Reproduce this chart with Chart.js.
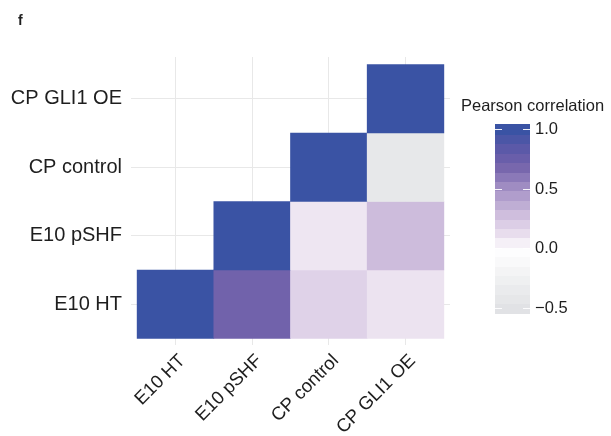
<!DOCTYPE html>
<html>
<head>
<meta charset="utf-8">
<script src="https://cdn.jsdelivr.net/npm/chart.js@4.4.0/dist/chart.umd.min.js"></script>
<style>
  html, body { margin: 0; padding: 0; background: #fff; }
  #wrap { position: relative; width: 611px; height: 436px; }
</style>
</head>
<body>
<div id="wrap"><canvas id="chart" width="611" height="436"></canvas></div>
<script>
// Samples, used for both axes (x left->right, y bottom->top)
const SAMPLES = ['E10 HT', 'E10 pSHF', 'CP control', 'CP GLI1 OE'];

// Pearson correlation per row (y sample) across the x samples; null = cell left blank
const ROW_E10_HT = [1.0, 0.72, 0.19, 0.10];
const ROW_E10_PSHF = [null, 1.0, 0.09, 0.30];
const ROW_CP_CONTROL = [null, null, 1.0, -0.40];
const ROW_CP_GLI1_OE = [null, null, null, 1.0];

// Colour bar
const LEGEND_TICKS = [1.0, 0.5, 0.0, -0.5];
const FILL_LIMITS = [-0.5, 1.0];

const FONT = "'Liberation Sans', Arial, Helvetica, sans-serif";
const TEXT = '#1e1e1e';

// fill scale: grey -> white -> lavender -> purple -> blue
const STOPS = [
  [-0.5, [225, 226, 229]],
  [0.0, [255, 255, 255]],
  [0.1, [236, 227, 240]],
  [0.2, [222, 208, 231]],
  [0.3, [205, 188, 220]],
  [0.5, [165, 146, 198]],
  [0.7, [116, 99, 171]],
  [0.85, [90, 88, 168]],
  [1.0, [58, 83, 164]]
];

function fillFor(v) {
  if (v <= STOPS[0][0]) return 'rgb(' + STOPS[0][1].join(',') + ')';
  for (let i = 1; i < STOPS.length; i++) {
    const [v1, c1] = STOPS[i];
    if (v <= v1) {
      const [v0, c0] = STOPS[i - 1];
      const t = (v - v0) / (v1 - v0);
      const c = c0.map((a, k) => Math.round(a + (c1[k] - a) * t));
      return 'rgb(' + c.join(',') + ')';
    }
  }
  return 'rgb(' + STOPS[STOPS.length - 1][1].join(',') + ')';
}

// one floating bar per tile
const rows = [ROW_E10_HT, ROW_E10_PSHF, ROW_CP_CONTROL, ROW_CP_GLI1_OE];
const cells = [];
rows.forEach((row, yi) => {
  row.forEach((v, xi) => {
    if (v !== null) cells.push({ x: xi + 0.5, y: [yi, yi + 1], v });
  });
});

const centerTicks = (scale) => {
  scale.ticks = SAMPLES.map((s, i) => ({ value: i + 0.5 }));
};

// colour bar legend drawn next to the plot
const colourBar = {
  id: 'colourBar',
  afterDraw(chart) {
    const ctx = chart.ctx;
    const [lo, hi] = FILL_LIMITS;
    const nbin = 20;
    const bx = 495, bw = 35, top = 124.5, bh = 188;
    const yFor = (v) => top + bh - (((v - lo) / (hi - lo)) * (nbin - 1) + 0.5) / nbin * bh;

    ctx.save();
    ctx.font = '16.5px ' + FONT;
    ctx.fillStyle = TEXT;
    ctx.textAlign = 'left';
    ctx.textBaseline = 'alphabetic';
    ctx.fillText('Pearson correlation', 461, 111);

    const step = bh / nbin;
    for (let k = 0; k < nbin; k++) {
      const v = lo + k * (hi - lo) / (nbin - 1);
      ctx.fillStyle = fillFor(v);
      const y = top + bh - (k + 1) * step;
      ctx.fillRect(bx, Math.floor(y), bw, Math.ceil(step) + 1);
    }

    ctx.strokeStyle = 'rgba(255,255,255,0.9)';
    ctx.lineWidth = 1;
    ctx.fillStyle = TEXT;
    ctx.textBaseline = 'middle';
    LEGEND_TICKS.forEach((t) => {
      const y = Math.round(yFor(t)) + 0.5;
      ctx.beginPath();
      ctx.moveTo(bx, y); ctx.lineTo(bx + 7, y);
      ctx.moveTo(bx + bw - 7, y); ctx.lineTo(bx + bw, y);
      ctx.stroke();
      const label = (t < 0 ? '\u2212' : '') + Math.abs(t).toFixed(1);
      ctx.fillText(label, bx + bw + 5, y);
    });

    // panel tag
    ctx.font = 'bold 14px ' + FONT;
    ctx.textBaseline = 'alphabetic';
    ctx.fillText('f', 18, 25);
    ctx.restore();
  }
};

new Chart(document.getElementById('chart'), {
  type: 'bar',
  data: {
    datasets: [{
      data: cells,
      backgroundColor: (c) => fillFor(c.raw ? c.raw.v : 0),
      borderWidth: 0,
      barPercentage: 1,
      categoryPercentage: 1
    }]
  },
  options: {
    responsive: false,
    animation: false,
    layout: { padding: { top: 57, right: 161, left: 0, bottom: 0 } },
    plugins: {
      legend: { display: false },
      tooltip: { enabled: false }
    },
    scales: {
      x: {
        type: 'linear',
        offset: false,
        min: -0.08,
        max: 4.08,
        afterBuildTicks: centerTicks,
        afterFit: (s) => { s.height = 91; },
        ticks: {
          autoSkip: false,
          minRotation: 45,
          maxRotation: 45,
          padding: 5,
          labelOffset: 7,
          color: TEXT,
          font: { family: FONT, size: 18.5 },
          callback: (v) => SAMPLES[Math.floor(v)]
        },
        grid: { color: '#e8e8e8', drawTicks: false, offset: false },
        border: { display: false }
      },
      y: {
        type: 'linear',
        min: -0.095,
        max: 4.11,
        afterBuildTicks: centerTicks,
        afterFit: (s) => { s.width = 131; },
        ticks: {
          padding: 9,
          color: TEXT,
          font: { family: FONT, size: 20 },
          callback: (v) => SAMPLES[Math.floor(v)]
        },
        grid: { color: '#e8e8e8', drawTicks: false },
        border: { display: false }
      }
    }
  },
  plugins: [colourBar]
});
</script>
</body>
</html>
